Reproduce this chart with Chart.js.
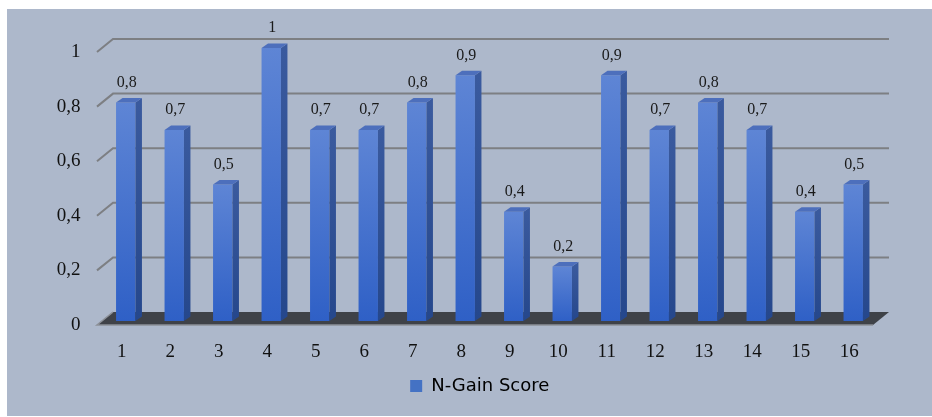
<!DOCTYPE html>
<html>
<head>
<meta charset="utf-8">
<script src="https://cdn.jsdelivr.net/npm/chart.js@4.4.0/dist/chart.umd.min.js"></script>
<style>
  html, body { margin: 0; padding: 0; background: #ffffff; overflow: hidden; }
  canvas { display: block; }
</style>
</head>
<body>
<canvas id="c" width="932" height="417"></canvas>
<script>
// Respondents 1..16 and their N-Gain scores
const categories = ['1','2','3','4','5','6','7','8','9','10','11','12','13','14','15','16'];
const nGainScore = [0.8, 0.7, 0.5, 1, 0.7, 0.7, 0.8, 0.9, 0.4, 0.2, 0.9, 0.7, 0.8, 0.7, 0.4, 0.5];
const yTicks = [0, 0.2, 0.4, 0.6, 0.8, 1];
const seriesName = 'N-Gain Score';

// decimal comma, as in the Indonesian locale
const fmt = v => String(Math.round(v * 10) / 10).replace('.', ',');

// perspective offsets for the pseudo-3D look
const FRONT = { dx: -4.5, dy: 4 };   // front edge of floor / walls
const BACK  = { dx: 11.5, dy: -9 };  // back wall
const DEPTH = { dx: 6.5, dy: -4.5 }; // depth of each column

const panelPlugin = {
  id: 'panel',
  afterLayout(chart) {
    // centre the legend under the whole panel rather than the plot
    const lg = chart.legend;
    if (lg) { lg.left += 41; lg.right += 41; }
  },
  beforeDraw(chart) {
    const ctx = chart.ctx;
    ctx.save();
    ctx.fillStyle = '#ffffff';
    ctx.fillRect(0, 0, chart.width, chart.height);
    ctx.fillStyle = '#adb8cb';
    ctx.fillRect(7, 9, chart.width - 7, 407);
    ctx.restore();
  },
  beforeDatasetsDraw(chart) {
    const ctx = chart.ctx;
    const y = chart.scales.y;
    const L = chart.chartArea.left, R = chart.chartArea.right;
    ctx.save();
    // back wall gridlines with the short side-wall segment
    ctx.strokeStyle = '#7d7f83';
    ctx.lineWidth = 2;
    yTicks.forEach(v => {
      if (v === 0) return;
      const py = y.getPixelForValue(v);
      ctx.beginPath();
      ctx.moveTo(L + FRONT.dx, py + FRONT.dy);
      ctx.lineTo(L + BACK.dx, py + BACK.dy);
      ctx.lineTo(R + BACK.dx, py + BACK.dy);
      ctx.stroke();
    });
    // floor slab
    const y0 = y.getPixelForValue(0);
    ctx.beginPath();
    ctx.moveTo(L + FRONT.dx, y0 + FRONT.dy);
    ctx.lineTo(R + FRONT.dx, y0 + FRONT.dy);
    ctx.lineTo(R + BACK.dx, y0 + BACK.dy);
    ctx.lineTo(L + BACK.dx, y0 + BACK.dy);
    ctx.closePath();
    ctx.fillStyle = '#3f4248';
    ctx.fill();
    ctx.strokeStyle = '#8c9098';
    ctx.lineWidth = 1.5;
    ctx.beginPath();
    ctx.moveTo(L + BACK.dx, y0 + BACK.dy);
    ctx.lineTo(L + FRONT.dx, y0 + FRONT.dy);
    ctx.lineTo(R + FRONT.dx, y0 + FRONT.dy);
    ctx.stroke();
    ctx.restore();
  },
  afterDatasetsDraw(chart) {
    const ctx = chart.ctx;
    const meta = chart.getDatasetMeta(0);
    ctx.save();
    meta.data.forEach((bar, i) => {
      const x1 = bar.x - bar.width / 2, x2 = bar.x + bar.width / 2;
      const top = bar.y, base = bar.base;
      // side face
      const sg = ctx.createLinearGradient(0, top, 0, base);
      sg.addColorStop(0, '#3a5a9e');
      sg.addColorStop(1, '#25478c');
      ctx.beginPath();
      ctx.moveTo(x2, top);
      ctx.lineTo(x2 + DEPTH.dx, top + DEPTH.dy);
      ctx.lineTo(x2 + DEPTH.dx, base + DEPTH.dy);
      ctx.lineTo(x2, base);
      ctx.closePath();
      ctx.fillStyle = sg;
      ctx.fill();
      // top face
      ctx.beginPath();
      ctx.moveTo(x1, top);
      ctx.lineTo(x1 + DEPTH.dx, top + DEPTH.dy);
      ctx.lineTo(x2 + DEPTH.dx, top + DEPTH.dy);
      ctx.lineTo(x2, top);
      ctx.closePath();
      ctx.fillStyle = '#4d6fbc';
      ctx.fill();
      // value label
      ctx.fillStyle = '#1a1a1a';
      ctx.font = '16px "Liberation Serif", serif';
      ctx.textAlign = 'center';
      ctx.textBaseline = 'middle';
      ctx.fillText(fmt(nGainScore[i]), bar.x + 1, top - 20);
    });
    ctx.restore();
  }
};

const ctx = document.getElementById('c').getContext('2d');
new Chart(ctx, {
  type: 'bar',
  data: {
    labels: categories,
    datasets: [{
      label: seriesName,
      data: nGainScore,
      // each column shades from light at its top to deeper blue at its base
      backgroundColor(c) {
        const ys = c.chart.scales.y;
        if (!ys || c.raw === undefined || !c.chart.chartArea) return '#4472c4';
        const t = ys.getPixelForValue(c.raw), b = ys.getPixelForValue(0);
        const g = c.chart.ctx.createLinearGradient(0, t, 0, b);
        g.addColorStop(0, '#5e85d5');
        g.addColorStop(1, '#2f60c6');
        return g;
      },
      borderWidth: 0,
      barPercentage: 0.4,
      categoryPercentage: 1
    }]
  },
  options: {
    responsive: false,
    animation: false,
    layout: { padding: { top: 48, right: 54.5, left: 0, bottom: 12 } },
    scales: {
      x: {
        grid: { display: false, drawTicks: false },
        border: { display: false },
        ticks: {
          color: '#111111',
          font: { family: '"Liberation Serif", serif', size: 19 },
          padding: 20,
          labelOffset: -4,
          maxRotation: 0,
          autoSkip: false
        },
        afterFit(s) { s.height = 46; }
      },
      y: {
        min: 0,
        max: 1,
        grid: { display: false, drawTicks: false },
        border: { display: false },
        afterBuildTicks(s) { s.ticks = yTicks.map(v => ({ value: v })); },
        ticks: {
          color: '#111111',
          font: { family: '"Liberation Serif", serif', size: 19 },
          padding: 21,
          labelOffset: 4,
          callback: v => fmt(v)
        },
        afterFit(s) { s.width = 101.5; }
      }
    },
    plugins: {
      legend: {
        position: 'bottom',
        labels: {
          boxWidth: 12,
          boxHeight: 12,
          padding: 10,
          color: '#111111',
          font: { family: '"DejaVu Sans", sans-serif', size: 18 },
          generateLabels: () => [{
            text: seriesName,
            fillStyle: '#4472c4',
            strokeStyle: '#4472c4',
            lineWidth: 0,
            datasetIndex: 0
          }]
        }
      },
      tooltip: { enabled: false }
    }
  },
  plugins: [panelPlugin]
});
</script>
</body>
</html>
